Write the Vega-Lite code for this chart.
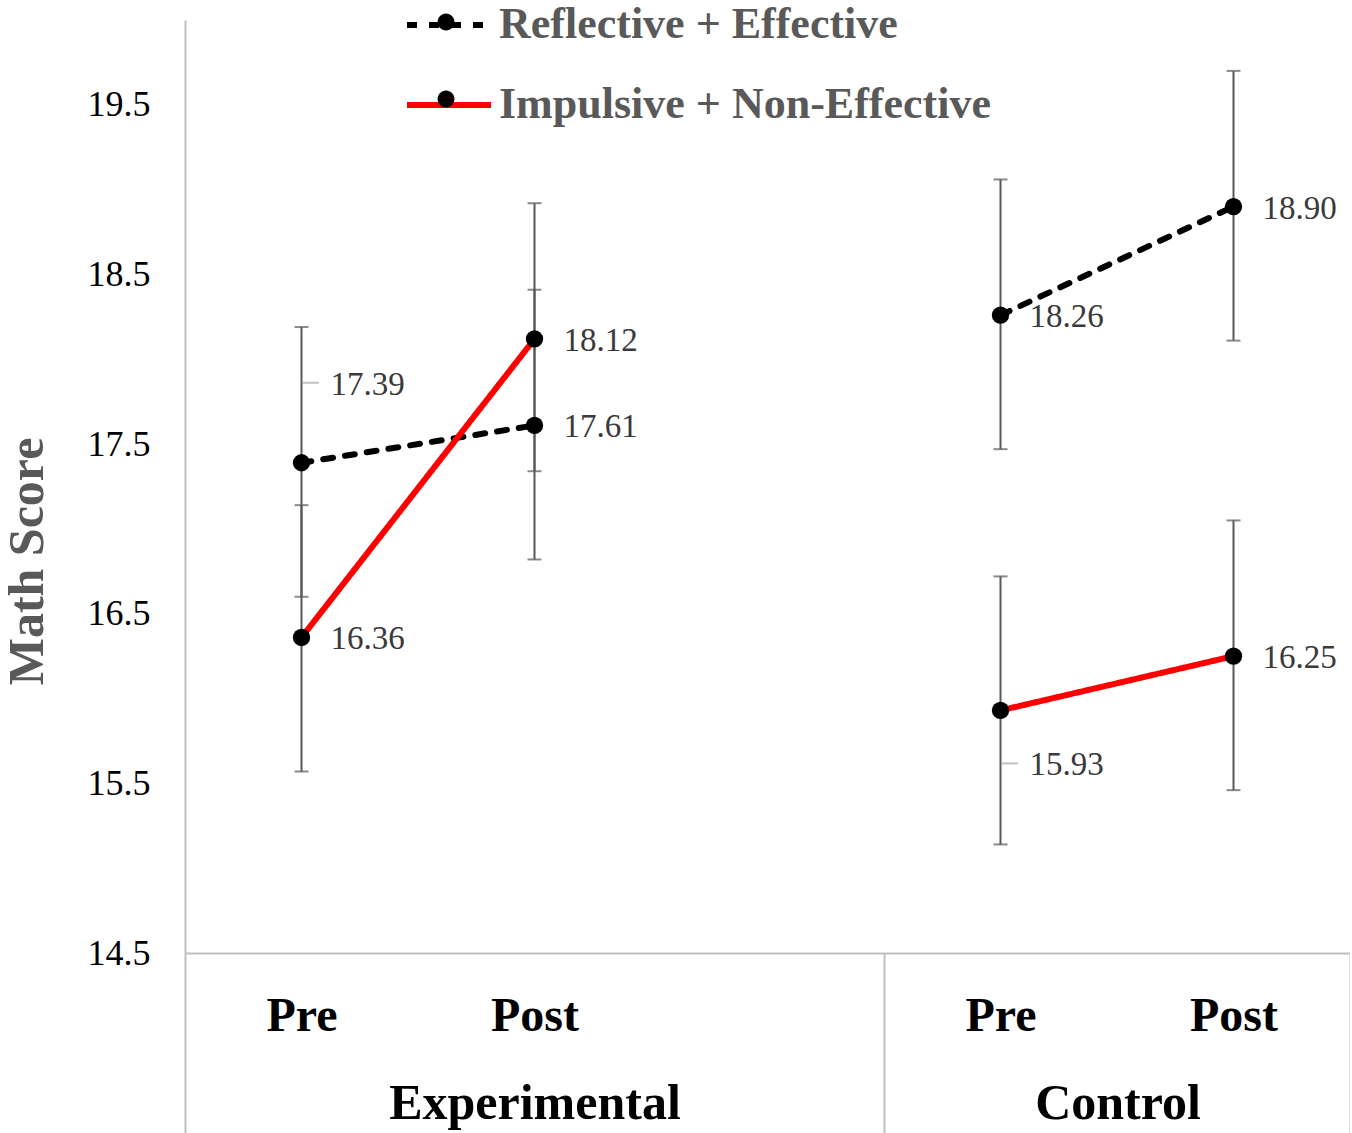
{
  "$schema": "https://vega.github.io/schema/vega-lite/v6.json",
  "width": 1165,
  "height": 933,
  "autosize": "none",
  "padding": {"left": 185, "top": 20, "right": 0, "bottom": 180},
  "background": "white",
  "config": {
    "view": {"stroke": null},
    "font": "Liberation Serif",
    "axisY": {
      "domainColor": "#BFBFBF",
      "domainWidth": 2,
      "ticks": false,
      "grid": false,
      "labelFont": "Liberation Serif",
      "labelFontSize": 36,
      "labelColor": "black",
      "labelPadding": 35,
      "titleFont": "Liberation Serif",
      "titleFontWeight": "bold",
      "titleFontSize": 50,
      "titleColor": "#595959",
      "titleAngle": -90,
      "titleBaseline": "middle",
      "titleAlign": "center",
      "titleX": -158,
      "titleY": 541
    }
  },
  "data": {
    "values": [
      {"condition": "Experimental", "slot": "Experimental Pre", "group": "Reflective + Effective", "score": 17.39, "lower": 16.60, "upper": 18.19},
      {"condition": "Experimental", "slot": "Experimental Post", "group": "Reflective + Effective", "score": 17.61, "lower": 16.82, "upper": 18.41},
      {"condition": "Control", "slot": "Control Pre", "group": "Reflective + Effective", "score": 18.26, "lower": 17.47, "upper": 19.06},
      {"condition": "Control", "slot": "Control Post", "group": "Reflective + Effective", "score": 18.90, "lower": 18.11, "upper": 19.70},
      {"condition": "Experimental", "slot": "Experimental Pre", "group": "Impulsive + Non-Effective", "score": 16.36, "lower": 15.57, "upper": 17.14},
      {"condition": "Experimental", "slot": "Experimental Post", "group": "Impulsive + Non-Effective", "score": 18.12, "lower": 17.34, "upper": 18.92},
      {"condition": "Control", "slot": "Control Pre", "group": "Impulsive + Non-Effective", "score": 15.93, "lower": 15.14, "upper": 16.72},
      {"condition": "Control", "slot": "Control Post", "group": "Impulsive + Non-Effective", "score": 16.25, "lower": 15.46, "upper": 17.05}
    ]
  },
  "layer": [
    {
      "encoding": {
        "x": {
          "field": "slot",
          "type": "nominal",
          "scale": {"type": "point", "domain": ["Experimental Pre", "Experimental Post", "Experimental (blank)", "Control Pre", "Control Post"], "padding": 0.5},
          "axis": {
            "orient": "bottom",
            "title": null,
            "domain": true,
            "domainColor": "#BFBFBF",
            "domainWidth": 2,
            "ticks": false,
            "tickSize": 0,
            "grid": false,
            "labelExpr": "indexof(datum.value, 'Post') >= 0 ? 'Post' : (indexof(datum.value, 'Pre') >= 0 ? 'Pre' : '')",
            "labelAngle": 0,
            "labelFont": "Liberation Serif",
            "labelFontSize": 48,
            "labelFontWeight": "bold",
            "labelColor": "black",
            "labelBaseline": "alphabetic",
            "labelPadding": 77,
            "labelLimit": 0,
            "labelOverlap": false
          }
        }
      },
      "layer": [
        {
          "mark": {"type": "errorbar", "ticks": true, "size": 14, "thickness": 2, "color": "#595959"},
          "encoding": {
            "y": {
              "field": "lower",
              "type": "quantitative",
              "title": "Math Score",
              "scale": {"domain": [14.5, 20]},
              "axis": {"values": [14.5, 15.5, 16.5, 17.5, 18.5, 19.5], "format": ".1f"}
            },
            "y2": {"field": "upper"}
          }
        },
        {
          "mark": {"type": "line", "strokeWidth": 6, "strokeCap": "round"},
          "encoding": {
            "y": {"field": "score", "type": "quantitative", "title": "Math Score", "scale": {"domain": [14.5, 20]}},
            "detail": {"field": "condition"},
            "color": {
              "field": "group",
              "type": "nominal",
              "scale": {"domain": ["Reflective + Effective", "Impulsive + Non-Effective"], "range": ["black", "#FF0000"]},
              "legend": {
                "orient": "none", "legendX": 219, "legendY": -40, "title": null, "padding": 0,
                "symbolType": "stroke", "symbolSize": 7056, "symbolStrokeWidth": 6,
                "labelFont": "Liberation Serif", "labelFontWeight": "bold", "labelFontSize": 44,
                "labelColor": "#595959", "labelOffset": 5, "rowPadding": 13, "labelLimit": 0
              }
            },
            "strokeDash": {
              "field": "group",
              "type": "nominal",
              "scale": {"domain": ["Reflective + Effective", "Impulsive + Non-Effective"], "range": [[10, 12], [1, 0]]},
              "legend": {
                "orient": "none", "legendX": 219, "legendY": -40, "title": null, "padding": 0,
                "symbolType": "stroke", "symbolSize": 7056, "symbolStrokeWidth": 6,
                "labelFont": "Liberation Serif", "labelFontWeight": "bold", "labelFontSize": 44,
                "labelColor": "#595959", "labelOffset": 5, "rowPadding": 13, "labelLimit": 0
              }
            }
          }
        },
        {
          "mark": {"type": "point", "filled": true, "opacity": 1, "size": 300},
          "encoding": {
            "y": {"field": "score", "type": "quantitative", "title": "Math Score", "scale": {"domain": [14.5, 20]}},
            "fill": {
              "field": "group",
              "type": "nominal",
              "sort": "descending",
              "scale": {"range": ["black", "black"]},
              "legend": {
                "orient": "none", "legendX": 219, "legendY": -40, "title": null, "padding": 0,
                "symbolType": "M0.2,0A0.2,0.2,0,1,1,-0.2,0A0.2,0.2,0,1,1,0.2,0Z",
                "symbolSize": 7056, "symbolStrokeWidth": 0, "symbolFillColor": "black",
                "labelFont": "Liberation Serif", "labelFontWeight": "bold", "labelFontSize": 44,
                "labelOpacity": 0, "labelOffset": 5, "rowPadding": 13, "labelLimit": 0
              }
            }
          }
        },
        {
          "transform": [{"filter": "!((datum.group === 'Reflective + Effective' && datum.slot === 'Experimental Pre') || (datum.group === 'Impulsive + Non-Effective' && datum.slot === 'Control Pre'))"}],
          "mark": {"type": "text", "align": "left", "baseline": "middle", "dx": 29, "dy": 2, "fontSize": 33, "color": "#3a3a3a"},
          "encoding": {
            "y": {"field": "score", "type": "quantitative", "title": "Math Score", "scale": {"domain": [14.5, 20]}},
            "text": {"field": "score", "type": "quantitative", "format": ".2f"}
          }
        },
        {
          "transform": [{"filter": "datum.group === 'Reflective + Effective' && datum.slot === 'Experimental Pre'"}],
          "mark": {"type": "text", "align": "left", "baseline": "middle", "dx": 29, "dy": -78, "fontSize": 33, "color": "#3a3a3a"},
          "encoding": {
            "y": {"field": "score", "type": "quantitative", "title": "Math Score", "scale": {"domain": [14.5, 20]}},
            "text": {"field": "score", "type": "quantitative", "format": ".2f"}
          }
        },
        {
          "transform": [{"filter": "datum.group === 'Impulsive + Non-Effective' && datum.slot === 'Control Pre'"}],
          "mark": {"type": "text", "align": "left", "baseline": "middle", "dx": 29, "dy": 55, "fontSize": 33, "color": "#3a3a3a"},
          "encoding": {
            "y": {"field": "score", "type": "quantitative", "title": "Math Score", "scale": {"domain": [14.5, 20]}},
            "text": {"field": "score", "type": "quantitative", "format": ".2f"}
          }
        },
        {
          "transform": [{"filter": "datum.group === 'Reflective + Effective' && datum.slot === 'Experimental Pre'"}],
          "mark": {"type": "tick", "orient": "horizontal", "size": 17, "thickness": 2, "color": "#A6A6A6", "xOffset": 9, "yOffset": -80},
          "encoding": {
            "y": {"field": "score", "type": "quantitative", "title": "Math Score", "scale": {"domain": [14.5, 20]}}
          }
        },
        {
          "transform": [{"filter": "datum.group === 'Impulsive + Non-Effective' && datum.slot === 'Control Pre'"}],
          "mark": {"type": "tick", "orient": "horizontal", "size": 17, "thickness": 2, "color": "#A6A6A6", "xOffset": 9, "yOffset": 53},
          "encoding": {
            "y": {"field": "score", "type": "quantitative", "title": "Math Score", "scale": {"domain": [14.5, 20]}}
          }
        }
      ]
    },
    {
      "mark": {"type": "rect", "opacity": 0},
      "encoding": {
        "x": {
          "field": "slot",
          "type": "nominal",
          "scale": {"type": "band", "domain": ["Experimental Pre", "Experimental Post", "Experimental (blank)", "Control Pre", "Control Post"], "paddingInner": 0, "paddingOuter": 0},
          "axis": {
            "orient": "bottom",
            "title": null,
            "domain": false,
            "grid": false,
            "ticks": true,
            "tickBand": "extent",
            "tickSize": 180,
            "tickColor": "#BFBFBF",
            "tickWidth": 2,
            "tickOpacity": {"condition": {"test": "datum.value === 'Experimental Pre' || datum.value === 'Experimental Post' || datum.value === 'Control Pre'", "value": 0}, "value": 1},
            "labelExpr": "datum.value === 'Experimental Post' ? 'Experimental' : (datum.value === 'Control Pre' ? 'Control' : '')",
            "labelAngle": 0,
            "labelFont": "Liberation Serif",
            "labelFontWeight": "bold",
            "labelFontSize": 50,
            "labelColor": "black",
            "labelBaseline": "alphabetic",
            "labelPadding": -15,
            "labelLimit": 0,
            "labelOverlap": false,
            "labelOffset": {"condition": {"test": "datum.value === 'Control Pre'", "value": 117}, "value": 0}
          }
        }
      }
    }
  ],
  "resolve": {"scale": {"x": "independent"}}
}
